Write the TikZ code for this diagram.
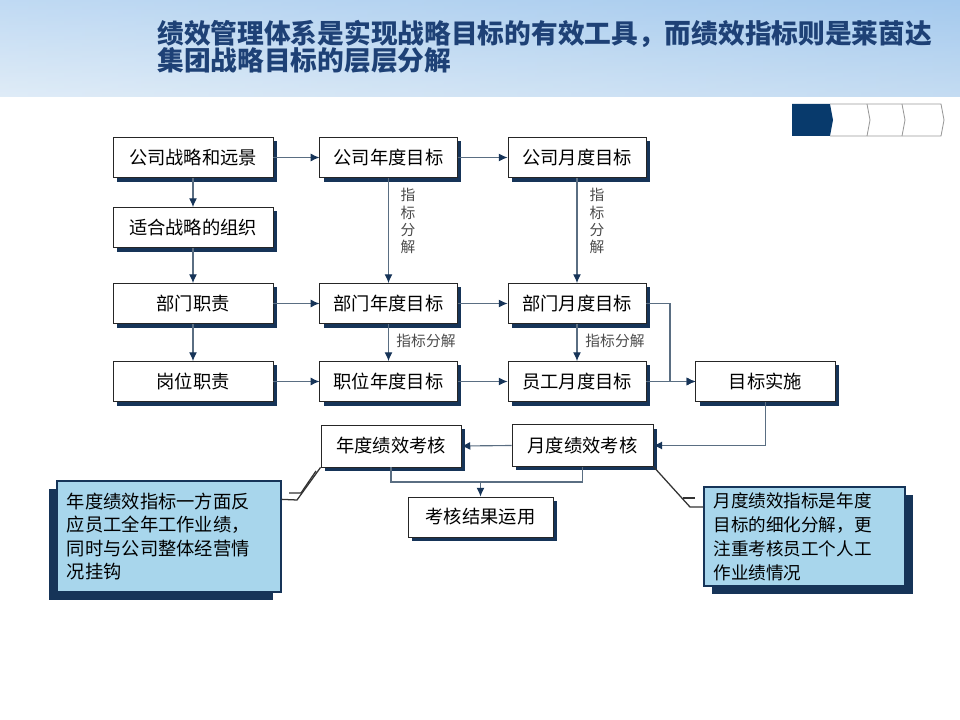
\documentclass[tikz,border=0pt]{standalone}
\usepackage{fontspec}
\setmainfont{Noto Sans CJK SC}
\usetikzlibrary{arrows.meta,shadows,calc}
\definecolor{navy}{RGB}{22,52,88}
\definecolor{linec}{RGB}{90,110,130}
\definecolor{titlec}{RGB}{30,65,118}
\definecolor{callfill}{RGB}{168,214,236}
\definecolor{navdark}{RGB}{8,58,108}
\definecolor{bandtop}{RGB}{165,202,238}
\definecolor{bandbot}{RGB}{210,228,244}
\begin{document}
\begin{tikzpicture}[x=0.025cm,y=-0.025cm,
  box/.style={draw=black!85,line width=0.6pt,fill=white,inner sep=0pt,
    font=\fontsize{13}{15}\selectfont,minimum height=1cm,
    drop shadow={shadow xshift=0.1cm,shadow yshift=-0.1cm,fill=navy,opacity=1}},
  callL/.style={draw=navy,line width=0.9pt,fill=callfill,inner sep=0pt,
    font=\fontsize{13}{16.7}\selectfont,align=left,
    drop shadow={shadow xshift=-0.2cm,shadow yshift=-0.2cm,fill=navy,opacity=1}},
  callR/.style={draw=navy,line width=0.9pt,fill=callfill,inner sep=0pt,
    font=\fontsize{12.5}{17}\selectfont,align=left,
    drop shadow={shadow xshift=0.2cm,shadow yshift=-0.2cm,fill=navy,opacity=1}},
  conn/.style={draw=linec,line width=0.8pt},
  arr/.style={conn,-{Latex[length=2.2mm,width=2mm,color=navy]}},
  lbl/.style={font=\fontsize{10.5}{12}\selectfont,text=black!70,inner sep=0pt},
  vlbl/.style={lbl,align=center,font=\fontsize{10.5}{12.2}\selectfont},
  cline/.style={draw=black!80,line width=0.9pt}
]
\useasboundingbox (0,0) rectangle (960,720);
\fill[white] (0,0) rectangle (960,720);
% header band
\shade[top color=bandtop,bottom color=bandbot] (0,0) rectangle (960,97);
\shade[left color=white,right color=bandtop,opacity=0.3] (0,0) rectangle (960,97);
\node[anchor=north west,align=left,text=titlec,inner sep=0pt,
  font=\fontsize{19}{19.5}\selectfont\bfseries] (title) at (157,20)
  {绩效管理体系是实现战略目标的有效工具，而绩效指标则是莱茵达\\集团战略目标的层层分解};
% nav chevrons
\fill[navdark] (792,104) -- (830,104) -- (833,120) -- (830,136) -- (792,136) -- cycle;
\draw[gray!80,line width=0.6pt] (830,104) -- (941,104) -- (944,120) -- (941,136) -- (830,136);
\draw[gray!80,line width=0.6pt] (867,104) -- (870,120) -- (867,136);
\draw[gray!80,line width=0.6pt] (902,104) -- (905,120) -- (902,136);
% boxes
\node[box,minimum width=4cm] (a1) at (193,157.5) {公司战略和远景};
\node[box,minimum width=3.43cm] (b1) at (388.5,157.5) {公司年度目标};
\node[box,minimum width=3.45cm] (c1) at (577,157.5) {公司月度目标};
\node[box,minimum width=4cm] (a2) at (193,227.5) {适合战略的组织};
\node[box,minimum width=4cm] (a3) at (193,303.5) {部门职责};
\node[box,minimum width=3.43cm] (b3) at (388.5,303.5) {部门年度目标};
\node[box,minimum width=3.45cm] (c3) at (577,303.5) {部门月度目标};
\node[box,minimum width=4cm] (a4) at (193,381.5) {岗位职责};
\node[box,minimum width=3.43cm] (b4) at (388.5,381.5) {职位年度目标};
\node[box,minimum width=3.45cm] (c4) at (577,381.5) {员工月度目标};
\node[box,minimum width=3.48cm] (impl) at (765.5,381.5) {目标实施};
\node[box,minimum width=3.5cm,minimum height=1.05cm] (ann) at (391,446) {年度绩效考核};
\node[box,minimum width=3.52cm,minimum height=1.03cm] (mon) at (582.5,445.5) {月度绩效考核};
\node[box,minimum width=3.62cm] (res) at (480.5,517) {考核结果运用};
% callouts
\node[callL,minimum width=5.6cm,minimum height=2.775cm,text width=5.1cm] (cl) at (169,536.5)
  {年度绩效指标一方面反\\应员工全年工作业绩，\\同时与公司整体经营情\\况挂钩};
\node[callR,minimum width=5.025cm,minimum height=2.475cm,text width=4.55cm] (cr) at (804.5,536.5)
  {月度绩效指标是年度\\目标的细化分解，更\\注重考核员工个人工\\作业绩情况};
% connectors row arrows
\draw[arr] (a1) -- (b1);
\draw[arr] (b1) -- (c1);
\draw[arr] (a3) -- (b3);
\draw[arr] (b3) -- (c3);
\draw[arr] (a4) -- (b4);
\draw[arr] (b4) -- (c4);
\draw[arr] (a1) -- (a2);
\draw[arr] (a2) -- (a3);
\draw[arr] (a3) -- (a4);
\draw[arr] (b1) -- (b3);
\draw[arr] (c1) -- (c3);
\draw[arr] (b3) -- (b4);
\draw[arr] (c3) -- (c4);
% labels
\node[vlbl] (l1) at (408,221) {指\\标\\分\\解};
\node[vlbl] (l2) at (597,221) {指\\标\\分\\解};
\node[lbl] (l3) at (426,341) {指标分解};
\node[lbl] (l4) at (615,341) {指标分解};
% to implementation
\coordinate (j1) at (670,381.5);
\draw[arr] (c3.east) -| (j1) -- (impl.west);
\draw[arr] (c4.east) -- (impl.west);
\draw[arr] (impl.south) |- (mon.east);
\draw[arr] (mon.west) -- (ann.east);
\coordinate (j2) at (480.5,482);
\draw[conn] (ann.south) |- (j2);
\draw[conn] (mon.south) |- (j2);
\draw[arr] (j2) -- (res.north);
% callout leader lines
\coordinate (p1) at (297,500);
\draw[cline] ($(cl.north east)+(0,19)$) -- (p1) -- (ann.south west);
\coordinate (p2) at (301,493);
\draw[cline] (289,493) -- (p2) -- (316,471);
\coordinate (p3) at (690,507);
\draw[cline] (mon.south east) -- (p3) -- (cr.west |- p3);
\coordinate (p4) at (695,498);
\draw[cline] (683,498) -- (p4);
\end{tikzpicture}
\end{document}
